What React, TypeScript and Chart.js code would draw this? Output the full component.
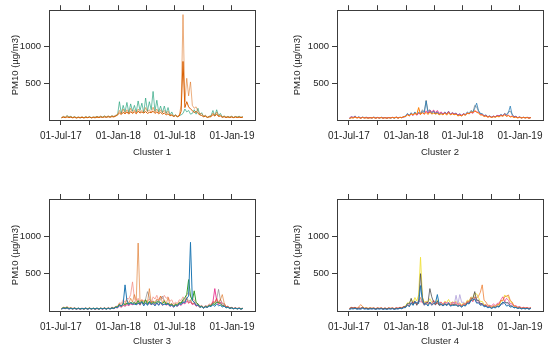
import React, { useEffect, useRef } from 'react';
import { Chart, registerables } from 'chart.js';
Chart.register(...registerables);

// Sampling grid: days since 01-Jul-2017 (every 6 days)
const DAYS: number[] = Array.from({ length: 98 }, (_, i) => 2 + 6 * i);
const QUARTER_DAYS = [0, 92, 184, 274, 365, 457, 549];
const TICK_LABELS = ['01-Jul-17', '', '01-Jan-18', '', '01-Jul-18', '', '01-Jan-19'];
const Y_TICKS = [500, 1000];
const Y_TITLE = 'PM10 (µg/m3)';

// Cluster 1
const c1Green = [
  30,45,35,60,40,50,32,45,30,40,
  28,42,30,45,33,48,30,40,35,50,
  35,48,40,55,38,52,40,58,45,60,
  70,250,90,200,110,240,100,220,120,200,
  110,260,130,230,100,300,120,250,140,390,
  120,270,110,190,100,190,90,170,70,110,
  50,70,45,60,70,90,150,110,130,80,
  90,140,80,160,70,100,45,60,35,50,
  60,130,55,140,60,90,40,55,35,48,
  38,50,35,48,40,52,35,45];
const c1OrangeMax = [
  35,50,40,58,38,48,35,45,30,42,
  35,45,30,48,35,42,30,45,38,50,
  40,55,38,52,45,55,42,58,50,65,
  75,130,85,150,90,140,95,160,100,140,
  95,150,110,130,105,170,110,140,100,175,
  105,150,95,140,100,130,90,120,65,80,
  50,70,50,65,200,1440,250,570,330,520,
  200,160,180,120,90,85,55,65,40,50,
  50,95,60,110,55,70,40,52,38,48,
  40,50,35,48,38,45,38,44];
const c1OrangeMean = [
  30,38,32,42,33,38,30,36,28,34,
  30,36,28,34,32,38,30,34,30,38,
  33,40,35,42,36,44,38,46,42,52,
  70,95,75,105,85,110,80,115,90,110,
  85,120,95,110,95,115,90,105,100,120,
  90,110,85,105,80,95,70,85,58,65,
  48,60,45,55,120,800,170,250,180,150,
  130,100,120,90,70,60,45,50,35,42,
  45,75,55,80,48,55,36,44,34,40,
  33,40,32,40,33,38,33,38];

// Cluster 2
const c2Blue = [
  25,45,35,55,30,45,28,40,32,38,
  28,36,26,40,30,36,26,38,28,34,
  26,34,28,36,26,40,28,38,32,45,
  55,90,65,100,70,110,75,105,85,120,
  100,260,90,130,85,120,80,110,75,100,
  80,110,85,120,80,100,85,95,70,85,
  65,85,75,110,90,130,110,160,230,130,
  90,85,60,70,45,55,40,52,45,60,
  55,75,60,85,65,100,190,70,45,50,
  32,42,30,38,30,38,28,34];
const c2Gray = [
  20,35,28,45,28,35,24,36,26,32,
  25,32,26,35,24,34,26,32,25,34,
  24,32,27,34,25,35,26,36,30,40,
  45,80,55,90,65,100,70,95,90,140,
  110,270,120,140,100,130,85,115,80,95,
  80,100,85,105,75,90,80,85,60,70,
  60,80,70,90,85,110,100,200,180,120,
  85,80,55,65,45,55,38,50,42,58,
  50,70,60,90,75,110,120,80,45,50,
  32,38,28,36,30,36,26,34];
const c2Magenta = [
  30,42,35,45,30,38,28,36,30,35,
  28,34,30,36,26,34,30,36,26,34,
  26,34,30,36,32,38,28,36,34,42,
  50,75,55,85,60,95,65,90,80,100,
  80,125,95,130,110,135,100,130,90,110,
  85,100,80,115,75,100,80,90,65,80,
  62,85,72,95,85,105,90,120,115,100,
  75,75,52,60,42,50,38,52,45,62,
  55,65,58,80,55,65,45,55,38,45,
  33,40,30,36,30,35,27,34];
const c2Orange = [
  20,30,28,40,28,34,24,34,28,30,
  26,30,28,34,24,32,28,34,24,32,
  24,32,28,34,28,38,26,36,32,48,
  48,70,58,85,70,90,75,170,75,100,
  80,105,75,110,80,95,82,90,72,85,
  70,95,66,100,70,85,72,80,55,65,
  55,75,65,95,85,115,100,130,105,95,
  70,68,48,55,38,46,34,44,38,52,
  42,60,50,70,50,60,42,48,33,40,
  28,35,28,34,28,34,24,32];

// Cluster 3
const c3Orange = [
  30,45,40,55,33,42,30,40,28,36,
  28,36,25,38,28,40,28,36,28,32,
  26,38,28,40,28,36,32,40,38,55,
  55,100,65,120,85,150,100,170,120,220,
  140,910,130,150,120,140,110,300,110,130,
  120,160,140,200,110,150,95,180,85,100,
  65,100,85,120,110,150,130,170,100,140,
  95,110,65,80,48,60,40,55,48,75,
  75,120,110,170,100,150,220,110,55,65,
  38,45,30,40,28,36,28,34];
const c3Blue = [
  25,38,33,42,27,34,28,36,24,38,
  26,33,28,36,24,34,28,33,26,38,
  24,34,28,36,24,38,27,40,33,50,
  45,80,70,95,350,140,85,110,95,90,
  85,100,100,120,68,110,75,120,85,100,
  68,110,75,120,80,90,85,100,65,80,
  52,75,65,100,85,120,110,170,200,920,
  140,120,75,80,48,58,38,55,48,65,
  58,85,62,95,70,80,52,65,42,50,
  33,40,29,36,28,35,24,34];
const c3Green = [
  30,45,38,48,32,40,28,38,30,36,
  28,36,25,38,27,38,28,38,27,38,
  27,38,30,38,28,38,30,42,36,55,
  55,90,62,100,85,105,95,115,105,110,
  95,140,88,130,95,150,88,130,95,115,
  105,120,125,110,95,130,90,105,75,90,
  62,90,75,110,105,150,180,220,420,200,
  140,270,115,95,58,62,43,60,52,75,
  66,100,85,120,115,100,68,70,43,50,
  36,44,31,38,30,38,27,36];
const c3Pink = [
  35,52,45,58,38,46,36,44,33,40,
  30,40,33,42,31,45,29,38,30,44,
  29,42,33,44,33,48,34,52,43,62,
  65,110,100,150,115,170,160,220,390,170,
  110,170,105,150,140,145,130,160,105,190,
  160,210,140,200,160,210,170,190,130,150,
  90,120,100,150,140,190,150,220,250,200,
  150,150,95,100,65,75,52,72,65,95,
  85,130,120,170,115,160,105,100,58,65,
  43,50,36,44,36,44,32,42];
const c3Magenta = [
  28,38,33,42,28,36,28,36,25,34,
  24,34,28,36,24,34,28,36,24,34,
  28,36,25,36,28,36,28,40,33,46,
  42,70,48,75,65,85,75,95,85,100,
  80,110,78,120,85,105,90,100,85,105,
  75,110,80,115,75,95,80,90,62,75,
  52,75,62,88,75,110,95,130,115,120,
  85,100,66,75,52,62,43,60,52,75,
  66,120,300,140,85,120,75,75,48,55,
  38,46,33,40,29,38,28,34];
const c3Gray = [
  25,36,30,38,27,33,27,33,26,32,
  26,32,27,33,26,35,24,34,24,35,
  24,34,27,38,26,36,28,40,33,48,
  42,70,56,88,62,100,70,110,80,125,
  85,120,112,135,95,160,260,180,115,135,
  95,145,105,160,200,130,95,110,80,100,
  66,90,75,110,95,135,120,180,130,150,
  95,110,76,88,57,68,47,68,57,80,
  70,110,104,160,290,150,95,90,52,58,
  38,46,33,40,29,38,28,34];

// Cluster 4
const c4Blue = [
  20,30,28,34,24,28,24,36,26,30,
  21,30,26,32,21,30,26,32,21,30,
  21,30,26,32,21,30,27,36,30,44,
  45,85,56,110,75,120,110,100,340,140,
  85,100,66,120,85,100,110,220,85,100,
  66,100,70,110,66,75,76,80,65,75,
  52,75,66,100,95,140,150,160,105,110,
  76,85,56,62,43,50,33,48,42,60,
  52,85,120,105,66,75,52,60,42,48,
  33,40,28,35,28,35,24,34];
const c4Gray = [
  30,42,36,42,30,38,33,48,33,36,
  30,38,31,36,27,36,31,36,27,36,
  27,36,30,36,27,36,31,42,36,55,
  57,100,95,170,86,135,76,120,500,180,
  95,110,114,300,190,120,86,135,76,85,
  76,85,85,95,71,85,81,85,62,72,
  57,78,71,110,105,155,170,260,140,145,
  95,100,66,72,48,55,38,55,48,66,
  57,98,105,120,114,110,66,66,43,48,
  36,42,30,36,30,36,27,36];
const c4Yellow = [
  35,48,43,48,36,42,38,55,38,42,
  36,42,38,42,31,42,36,42,31,42,
  31,42,36,42,31,42,36,48,43,60,
  66,110,105,155,114,180,133,215,720,190,
  114,130,124,165,114,130,124,145,105,120,
  95,130,114,155,105,120,114,130,95,110,
  76,110,95,145,133,190,171,240,228,180,
  124,130,86,85,57,66,48,66,57,84,
  76,130,143,215,190,190,124,110,57,60,
  43,48,36,42,36,42,31,42];
const c4Lavender = [
  25,36,30,36,27,30,27,36,27,30,
  27,30,27,30,22,30,27,30,22,30,
  22,30,27,30,22,30,27,36,31,46,
  48,72,66,96,86,120,105,145,150,120,
  70,95,75,110,70,100,80,105,75,95,
  70,100,75,95,70,110,80,210,90,220,
  114,120,86,130,124,180,162,190,150,145,
  95,96,66,72,52,60,43,60,52,72,
  62,90,86,130,95,96,66,72,48,54,
  38,46,33,40,33,40,29,38];
const c4Orange = [
  30,42,38,45,33,54,86,60,38,42,
  33,40,33,38,29,40,33,40,29,38,
  29,40,33,38,29,40,33,46,38,54,
  50,80,70,100,85,115,95,130,180,120,
  85,100,90,120,85,100,90,105,80,90,
  75,100,85,90,80,95,85,100,70,80,
  66,96,86,130,124,180,133,190,171,200,
  250,350,143,120,76,78,52,72,62,90,
  86,145,133,190,200,215,143,120,66,66,
  48,54,38,46,38,46,33,44];
const c4Pink = [
  35,48,43,50,36,42,38,46,33,40,
  33,40,36,42,31,42,36,42,31,42,
  31,42,36,42,31,46,38,50,43,60,
  52,78,76,108,114,120,86,132,124,120,
  86,120,105,108,95,144,95,108,105,120,
  86,120,105,114,86,120,105,114,86,96,
  71,96,86,120,105,144,124,168,114,120,
  86,96,71,84,62,72,66,96,71,102,
  105,150,190,130,170,144,95,96,66,72,
  52,60,43,50,43,48,36,48];

type Series = { values: number[]; color: string };

const X_MIN = -38;
const X_MAX = 623;
const TEXT = '#262626';
const AXIS = '#3c3c3c';
const FAMILY = '"Liberation Sans", Arial, sans-serif';

type Margins = { left: number; right: number; top: number; bottom: number; yTitlePad: number; xTitlePad: number };

function Panel(props: { left: number; top: number; width: number; height: number; m: Margins; title: string; series: Series[] }) {
  const ref = useRef<HTMLCanvasElement>(null);
  useEffect(() => {
    const m = props.m;
    const grid = { drawOnChartArea: false, drawTicks: true, tickLength: 5, color: AXIS, lineWidth: 1 };
    const border = { display: true, color: AXIS, width: 1 };
    const xTicks = (s: any) => { s.ticks = QUARTER_DAYS.map((v) => ({ value: v })); };
    const yTicks = (s: any) => { s.ticks = Y_TICKS.map((v) => ({ value: v })); };
    const chart = new Chart(ref.current as HTMLCanvasElement, {
      type: 'line',
      data: {
        datasets: props.series.map((s) => ({
          data: s.values.map((v, i) => ({ x: DAYS[i], y: v })),
          borderColor: s.color,
          borderWidth: 1,
          pointRadius: 0,
          tension: 0,
          fill: false,
          xAxisID: 'x',
          yAxisID: 'y',
        })),
      },
      options: {
        animation: false,
        responsive: false,
        events: [],
        layout: { padding: 0 },
        plugins: { legend: { display: false }, tooltip: { enabled: false } },
        scales: {
          x: {
            type: 'linear', position: 'bottom', min: X_MIN, max: X_MAX,
            afterBuildTicks: xTicks,
            afterFit: (s: any) => { s.height = m.bottom; },
            ticks: {
              autoSkip: false, maxRotation: 0, minRotation: 0, padding: 5, color: TEXT,
              font: { family: FAMILY, size: 10 },
              callback: (v: any) => { const k = QUARTER_DAYS.indexOf(Number(v)); return k >= 0 ? TICK_LABELS[k] : ''; },
            },
            grid, border,
            title: { display: true, text: props.title, color: TEXT, font: { family: FAMILY, size: 9.5 }, padding: { top: 0, bottom: m.xTitlePad } },
          },
          xTop: {
            type: 'linear', axis: 'x', position: 'top', min: X_MIN, max: X_MAX,
            afterBuildTicks: xTicks,
            afterFit: (s: any) => { s.height = m.top; },
            ticks: { autoSkip: false, maxRotation: 0, callback: () => '' },
            grid, border,
          },
          y: {
            type: 'linear', position: 'left', min: 0, max: 1500,
            afterBuildTicks: yTicks,
            afterFit: (s: any) => { s.width = m.left; },
            ticks: { padding: 3, color: TEXT, font: { family: FAMILY, size: 9.5 }, callback: (v: any) => String(v) },
            grid, border,
            title: { display: true, text: Y_TITLE, color: TEXT, font: { family: FAMILY, size: 9.5 }, padding: { top: m.yTitlePad, bottom: 0 } },
          },
          yRight: {
            type: 'linear', axis: 'y', position: 'right', min: 0, max: 1500,
            afterBuildTicks: yTicks,
            afterFit: (s: any) => { s.width = m.right; },
            ticks: { callback: () => '' },
            grid, border,
          },
        } as any,
      },
    });
    return () => chart.destroy();
  }, []);
  return (
    <div style={{ position: 'absolute', left: props.left, top: props.top, width: props.width, height: props.height }}>
      <canvas ref={ref} width={props.width} height={props.height} style={{ display: 'block' }} />
    </div>
  );
}

const S1: Series[] = [
  { values: c1OrangeMean, color: '#D95F02' },
  { values: c1OrangeMax, color: 'rgba(217,95,2,0.5)' },
  { values: c1Green, color: 'rgba(27,158,119,0.65)' },
];
const S2: Series[] = [
  { values: c2Orange, color: '#FF7F00' },
  { values: c2Magenta, color: 'rgba(231,41,138,0.8)' },
  { values: c2Blue, color: 'rgba(31,120,180,0.75)' },
  { values: c2Gray, color: 'rgba(102,102,102,0.6)' },
];
const S3: Series[] = [
  { values: c3Blue, color: '#1F78B4' },
  { values: c3Green, color: '#33A02C' },
  { values: c3Magenta, color: 'rgba(231,41,138,0.85)' },
  { values: c3Orange, color: 'rgba(217,95,2,0.55)' },
  { values: c3Gray, color: 'rgba(120,120,120,0.6)' },
  { values: c3Pink, color: 'rgba(244,140,130,0.75)' },
];
const S4: Series[] = [
  { values: c4Blue, color: '#1F78B4' },
  { values: c4Gray, color: 'rgba(70,70,70,0.75)' },
  { values: c4Orange, color: 'rgba(238,120,40,0.75)' },
  { values: c4Pink, color: 'rgba(231,41,138,0.7)' },
  { values: c4Lavender, color: 'rgba(180,165,220,0.85)' },
  { values: c4Yellow, color: 'rgba(240,225,60,0.9)' },
];

export default function App() {
  return (
    <div style={{ position: 'fixed', left: 0, top: 0, width: 550, height: 349, background: '#ffffff', overflow: 'hidden' }}>
      <Panel left={0} top={0} width={275} height={175} title="Cluster 1" series={S1}
        m={{ left: 49, right: 20, top: 9, bottom: 55, yTitlePad: 9.3, xTitlePad: 16.9 }} />
      <Panel left={275} top={0} width={275} height={175} title="Cluster 2" series={S2}
        m={{ left: 62, right: 7, top: 9, bottom: 55, yTitlePad: 16.3, xTitlePad: 16.9 }} />
      <Panel left={0} top={175} width={275} height={174} title="Cluster 3" series={S3}
        m={{ left: 49, right: 20, top: 24, bottom: 38, yTitlePad: 9.3, xTitlePad: 1.6 }} />
      <Panel left={275} top={175} width={275} height={174} title="Cluster 4" series={S4}
        m={{ left: 62, right: 7, top: 24, bottom: 38, yTitlePad: 16.3, xTitlePad: 1.6 }} />
    </div>
  );
}
